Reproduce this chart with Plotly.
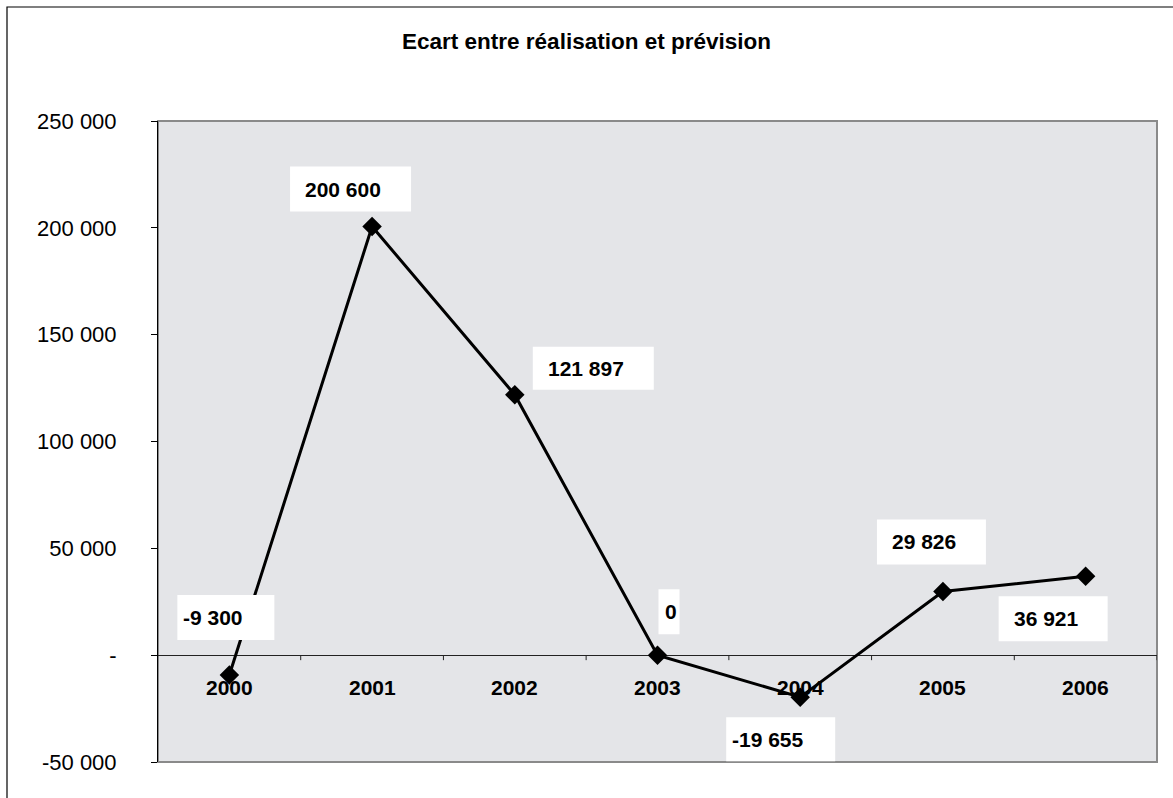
import plotly.graph_objects as go

# ---- data ----
years = ["2000", "2001", "2002", "2003", "2004", "2005", "2006"]
ecart = [-9300, 200600, 121897, 0, -19655, 29826, 36921]
value_labels = ["-9 300", "200 600", "121 897", "0", "-19 655", "29 826", "36 921"]
y_tickvals = [-50000, 0, 50000, 100000, 150000, 200000, 250000]
y_ticktext = ["-50 000", "-", "50 000", "100 000", "150 000", "200 000", "250 000"]
y_min, y_max = -50000, 250000
title_text = "Ecart entre réalisation et prévision"

# ---- label box styling: pixel offsets of each white box from its point ----
box_x0 = [-52, -82, 18, 1, -74, -66, -87]
box_x1 = [45, 39, 139, 22, 35, 43, 22]
box_y0 = [35, 15, 5, 21, -64, 27, -65]   # pixels, upward positive
box_y1 = [80, 60, 48, 66, -20, 72, -20]
text_dx = [-48, -69, 31, 5, -70, -53, -74]

FONT = "Arial, Liberation Sans, sans-serif"

W, H = 1173, 798
L, R, T, B = 158, 16, 121, 36
plot_w = W - L - R
plot_h = H - T - B

idx = list(range(len(years)))

fig = go.Figure()
fig.add_trace(go.Scatter(
    x=idx, y=ecart, mode="lines+markers",
    line=dict(color="black", width=3),
    marker=dict(symbol="diamond", size=15, color="black"),
    showlegend=False, hoverinfo="skip", cliponaxis=False,
))

# plot-area border (grey)
fig.add_shape(type="rect", xref="x domain", yref="y domain", x0=0, x1=1, y0=0, y1=1,
              line=dict(color="#8a8a8a", width=2), layer="below")

# category axis drawn on the zero line: boundary ticks + labels
for i in idx:
    fig.add_shape(
        type="line", xref="x", yref="y",
        ysizemode="pixel", yanchor=0, x0=i + 0.5, x1=i + 0.5, y0=0, y1=-5,
        line=dict(color="#222222", width=1),
    )
    fig.add_annotation(
        x=i, y=0, xref="x", yref="y", text="<b>" + years[i] + "</b>",
        showarrow=False, xanchor="center", yanchor="middle", yshift=-32,
        font=dict(family=FONT, size=21, color="black"),
    )

for i, (yv, txt) in enumerate(zip(ecart, value_labels)):
    fig.add_shape(
        type="rect", xref="x", yref="y",
        xsizemode="pixel", ysizemode="pixel", xanchor=i, yanchor=yv,
        x0=box_x0[i], x1=box_x1[i], y0=box_y0[i], y1=box_y1[i],
        fillcolor="white", line=dict(width=0), layer="above",
    )
    fig.add_annotation(
        x=i, y=yv, xref="x", yref="y", text="<b>" + txt + "</b>",
        showarrow=False, xanchor="left", yanchor="middle",
        xshift=text_dx[i], yshift=(box_y0[i] + box_y1[i]) / 2,
        font=dict(family=FONT, size=21, color="black"),
    )

# outer chart frame
fig.add_shape(type="rect", xref="paper", yref="paper",
              x0=(7 - L) / plot_w, x1=2, y0=-1, y1=1 + (T - 7) / plot_h,
              line=dict(color="black", width=1.2), fillcolor="rgba(0,0,0,0)")

fig.update_layout(
    width=W, height=H,
    margin=dict(l=L, r=R, t=T, b=B),
    paper_bgcolor="white",
    plot_bgcolor="#e4e5e8",
    title=dict(text="<b>" + title_text + "</b>", x=0.5, xanchor="center",
               y=1 - 41 / H, yanchor="middle", yref="container",
               font=dict(family=FONT, size=22.5, color="black")),
    font=dict(family=FONT, color="black"),
    xaxis=dict(
        range=[-0.5, len(years) - 0.5],
        showticklabels=False, showline=False, ticks="",
        showgrid=False, zeroline=False, fixedrange=True,
    ),
    yaxis=dict(
        range=[y_min, y_max], tickvals=y_tickvals, ticktext=y_ticktext,
        showline=True, linecolor="black", linewidth=1,
        ticks="outside", ticklen=6, tickcolor="black",
        tickfont=dict(family=FONT, size=22, color="black"),
        ticklabelstandoff=30,
        showgrid=False, zeroline=True, zerolinecolor="#222222", zerolinewidth=1,
        fixedrange=True,
    ),
)

fig.write_html(
    "out.html",
    config={"displayModeBar": False},
    post_script="document.body.style.margin='0';document.body.style.overflow='hidden';",
)
